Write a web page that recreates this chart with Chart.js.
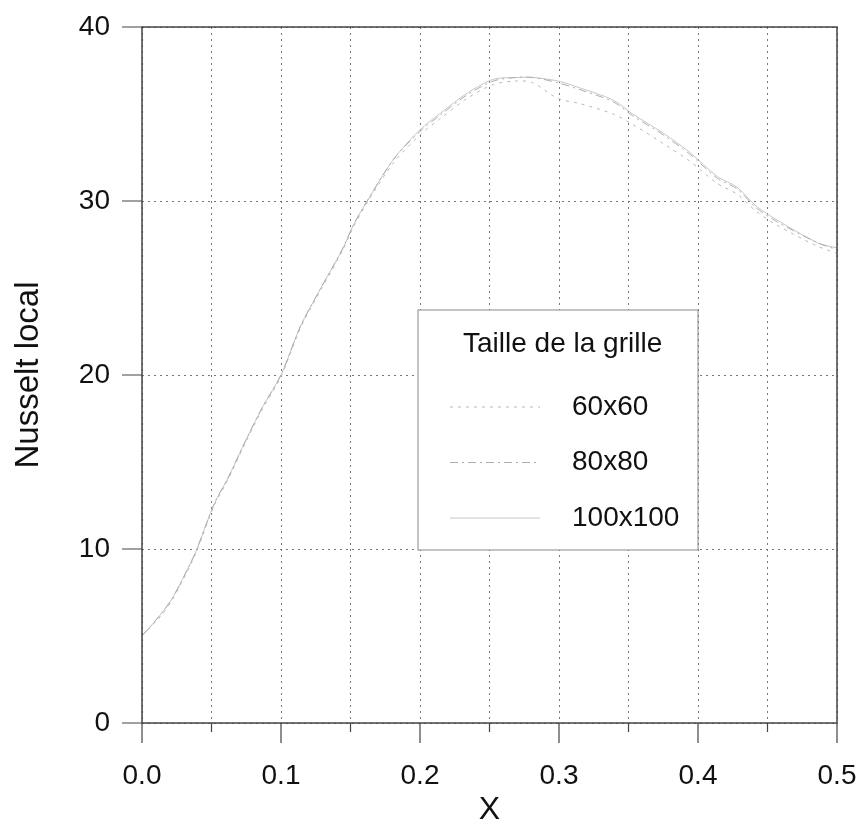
<!DOCTYPE html>
<html>
<head>
<meta charset="utf-8">
<script src="https://cdn.jsdelivr.net/npm/chart.js@4.4.0/dist/chart.umd.min.js"></script>
<style>
  html, body { margin: 0; padding: 0; background: #fff; }
  #wrap { width: 859px; height: 826px; }
</style>
</head>
<body>
<div id="wrap"><canvas id="myChart" width="859" height="826"></canvas></div>
<script>
// positions en X (abscisse)
const xValeurs = [0, 0.013, 0.022, 0.035, 0.04, 0.052, 0.062, 0.075, 0.087, 0.1, 0.114, 0.128, 0.144, 0.152, 0.162, 0.181, 0.2, 0.214, 0.234, 0.253, 0.27, 0.281, 0.299, 0.315, 0.339, 0.353, 0.375, 0.394, 0.414, 0.428, 0.442, 0.457, 0.486, 0.5];
// Nusselt local pour chaque grille
const nu60 = [5.0, 6.1, 7.1, 9.1, 10.0, 12.5, 14.0, 16.2, 18.1, 19.9, 22.7, 24.8, 27.1, 28.5, 29.9, 32.2, 33.8, 34.7, 35.9, 36.7, 36.9, 36.8, 35.9, 35.6, 35.0, 34.4, 33.3, 32.3, 31.0, 30.4, 29.4, 28.6, 27.4, 27.0];
const nu80 = [5.0, 6.2, 7.2, 9.2, 10.1, 12.6, 14.1, 16.3, 18.2, 20.0, 22.8, 24.9, 27.2, 28.6, 30.0, 32.4, 34.0, 34.9, 36.1, 36.9, 37.1, 37.1, 36.8, 36.4, 35.7, 34.9, 33.8, 32.7, 31.3, 30.7, 29.6, 28.8, 27.6, 27.2];
const nu100 = [5.0, 6.2, 7.2, 9.2, 10.1, 12.6, 14.1, 16.3, 18.2, 20.0, 22.8, 24.9, 27.2, 28.6, 30.0, 32.4, 34.1, 35.0, 36.2, 37.0, 37.1, 37.1, 36.9, 36.5, 35.8, 35.0, 33.9, 32.8, 31.4, 30.8, 29.7, 28.9, 27.6, 27.3];
const nomsGrilles = ["60x60", "80x80", "100x100"];
const xTicks = [0, 0.1, 0.2, 0.3, 0.4, 0.5];
const yTicks = [0, 10, 20, 30, 40];

const police = "'Liberation Sans', Arial, sans-serif";

function points(serie) {
  return xValeurs.map((x, i) => ({ x: x, y: serie[i] }));
}

// pas de marge auto pour les etiquettes qui debordent
function sansMarge(scale) {
  scale.paddingLeft = 0;
  scale.paddingRight = 0;
  scale.paddingTop = 0;
  scale.paddingBottom = 0;
}

// cadre, graduations et légende dessinés à la main
const cadrePlugin = {
  id: "cadre",
  afterDraw(chart) {
    const ctx = chart.ctx;
    const a = chart.chartArea;
    const sx = chart.scales.x, sy = chart.scales.y;
    ctx.save();
    ctx.strokeStyle = "#444";
    ctx.lineWidth = 1.5;
    ctx.strokeRect(a.left, a.top, a.right - a.left, a.bottom - a.top);
    ctx.lineWidth = 1.2;
    ctx.beginPath();
    for (let v = 0; v <= 0.5001; v += 0.05) {
      const px = sx.getPixelForValue(v);
      const majeur = Math.abs(v * 10 - Math.round(v * 10)) < 1e-6;
      ctx.moveTo(px, a.bottom);
      ctx.lineTo(px, a.bottom + (majeur ? 20 : 9));
    }
    yTicks.forEach(v => {
      const py = sy.getPixelForValue(v);
      ctx.moveTo(a.left, py);
      ctx.lineTo(a.left - 20, py);
    });
    ctx.stroke();

    // légende
    const bx = 418, by = 310, bw = 280, bh = 240;
    ctx.fillStyle = "#fff";
    ctx.fillRect(bx, by, bw, bh);
    ctx.strokeStyle = "#888";
    ctx.lineWidth = 1;
    ctx.strokeRect(bx, by, bw, bh);
    ctx.fillStyle = "#111";
    ctx.font = "28px " + police;
    ctx.textBaseline = "middle";
    ctx.fillText("Taille de la grille", 463, 344);
    chart.data.datasets.forEach((ds, i) => {
      const yy = 407 + i * 55.5;
      ctx.strokeStyle = ds.borderColor;
      ctx.lineWidth = 1;
      ctx.setLineDash(ds.borderDash || []);
      ctx.beginPath();
      ctx.moveTo(450, yy);
      ctx.lineTo(540, yy);
      ctx.stroke();
      ctx.setLineDash([]);
      ctx.fillStyle = "#111";
      ctx.fillText(ds.label, 572, yy);
    });
    ctx.restore();
  }
};

const config = {
  type: "line",
  data: {
    datasets: [
      { label: nomsGrilles[0], data: points(nu60), borderColor: "#b8b8b8", borderWidth: 1, borderDash: [3, 5], pointRadius: 0, tension: 0.3 },
      { label: nomsGrilles[1], data: points(nu80), borderColor: "#acacac", borderWidth: 1, borderDash: [8, 4, 2, 4], pointRadius: 0, tension: 0.3 },
      { label: nomsGrilles[2], data: points(nu100), borderColor: "#c6c6c6", borderWidth: 1, pointRadius: 0, tension: 0.3 }
    ]
  },
  options: {
    responsive: false,
    animation: false,
    layout: { padding: { top: 27, right: 22, left: 0, bottom: 0 } },
    plugins: { legend: { display: false }, tooltip: { enabled: false } },
    scales: {
      x: {
        type: "linear",
        min: 0, max: 0.5,
        afterBuildTicks(scale) {
          const t = [];
          for (let i = 0; i <= 10; i++) t.push({ value: i * 0.05 });
          scale.ticks = t;
        },
        afterFit(scale) { scale.height = 103; sansMarge(scale); },
        ticks: {
          padding: 36,
          color: "#111",
          font: { size: 28, family: police },
          maxRotation: 0,
          autoSkip: false,
          callback: (v) => {
            const k = xTicks.findIndex(t => Math.abs(t - v) < 1e-6);
            return k >= 0 ? xTicks[k].toFixed(1) : "";
          }
        },
        grid: { color: "#777", lineWidth: 1, drawTicks: false },
        border: { display: false, dash: [2, 4] },
        title: { display: true, text: "X", color: "#111", font: { size: 32, family: police, lineHeight: 1 }, padding: { top: 0, bottom: 0 } }
      },
      y: {
        min: 0, max: 40,
        afterBuildTicks(scale) { scale.ticks = yTicks.map(v => ({ value: v })); },
        afterFit(scale) { scale.width = 142; sansMarge(scale); },
        ticks: { padding: 32, color: "#111", font: { size: 28, family: police } },
        grid: { color: "#777", lineWidth: 1, drawTicks: false },
        border: { display: false, dash: [2, 4] },
        title: { display: true, text: "Nusselt local", color: "#111", font: { size: 33, family: police, lineHeight: 1 }, padding: { top: 12, bottom: 0 } }
      }
    }
  },
  plugins: [cadrePlugin]
};

const myChart = new Chart(document.getElementById("myChart"), config);
</script>
</body>
</html>
